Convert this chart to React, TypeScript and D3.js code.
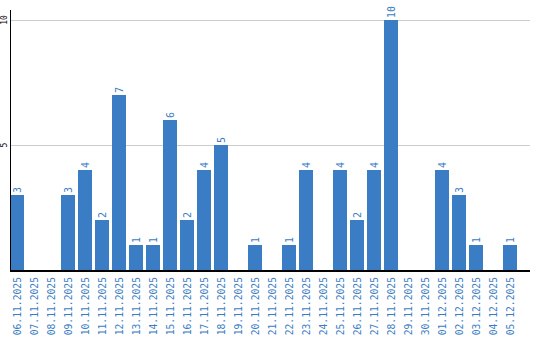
import React from "react";
import * as d3 from "d3";

const categories = ["06.11.2025","07.11.2025","08.11.2025","09.11.2025","10.11.2025","11.11.2025","12.11.2025","13.11.2025","14.11.2025","15.11.2025","16.11.2025","17.11.2025","18.11.2025","19.11.2025","20.11.2025","21.11.2025","22.11.2025","23.11.2025","24.11.2025","25.11.2025","26.11.2025","27.11.2025","28.11.2025","29.11.2025","30.11.2025","01.12.2025","02.12.2025","03.12.2025","04.12.2025","05.12.2025"];
const values = [3,0,0,3,4,2,7,1,1,6,2,4,5,0,1,0,1,4,0,4,2,4,10,0,0,4,3,1,0,1];
const yTicks = [5, 10];

export default function App() {
  const W = 540, H = 340;
  const left = 10, right = 530, top = 20, bottom = 270;
  const x = d3.scaleBand<string>().domain(categories).range([left, left + 17 * categories.length]).paddingInner(0).paddingOuter(0);
  const y = d3.scaleLinear().domain([0, 10]).range([bottom, top]);
  const barW = 14;
  const blue = "#3b7dc4";
  const font = "'DejaVu Sans Mono', monospace";
  return (
    <svg width={W} height={H} style={{ position: "absolute", left: 0, top: 0, display: "block" }}>
      <rect width={W} height={H} fill="#fff" />
      {yTicks.map((t) => (
        <g key={t}>
          <line x1={left} x2={right} y1={y(t) + 0.5} y2={y(t) + 0.5} stroke="#cccccc" strokeWidth={1} />
          <text transform={`translate(4,${y(t)}) rotate(-90)`} textAnchor="middle" dominantBaseline="central" fontFamily={font} fontSize={8} fill="#000">{t}</text>
        </g>
      ))}
      {categories.map((c, i) => {
        const v = values[i];
        const bx = x(c)!;
        const cx = bx + barW / 2;
        return (
          <g key={c}>
            {v > 0 && <rect x={bx} y={y(v)} width={barW} height={bottom - y(v)} fill={blue} />}
            {v > 0 && (
              <text transform={`translate(${cx},${y(v) - 2}) rotate(-90)`} textAnchor="start" dominantBaseline="central" fontFamily={font} fontSize={10} fill={blue}>{v}</text>
            )}
            <text transform={`translate(${cx},277) rotate(-90)`} textAnchor="end" dominantBaseline="central" fontFamily={font} fontSize={9.7} fill={blue}>{c}</text>
          </g>
        );
      })}
      <line x1={left + 0.5} x2={left + 0.5} y1={10} y2={bottom} stroke="#000" strokeWidth={1} />
      <line x1={left} x2={right} y1={bottom + 1} y2={bottom + 1} stroke="#000" strokeWidth={2} />
    </svg>
  );
}
